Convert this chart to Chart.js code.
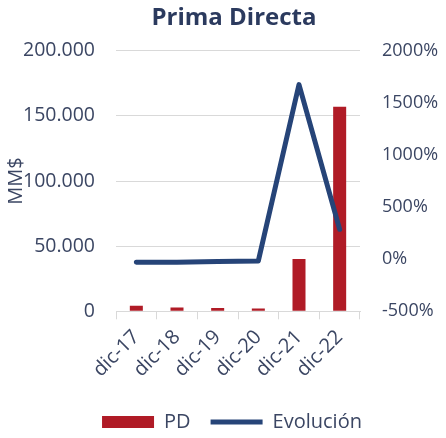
<!DOCTYPE html>
<html lang="es">
<head>
  <meta charset="UTF-8">
  <title>Prima Directa</title>
  <script src="https://cdn.jsdelivr.net/npm/chart.js"></script>
  <style>
    body {
      margin: 0;
      background: #fff;
    }
  </style>
</head>
<body>
<canvas id="primaChart" width="446" height="438"></canvas>

<script>
  // datos
  const labels = ['dic-17', 'dic-18', 'dic-19', 'dic-20', 'dic-21', 'dic-22'];
  const primaDirecta = [4200, 3000, 2500, 2200, 40200, 157000];
  const evolucion = [-30, -28, -21, -16, 1676, 287];

  const textColor = '#3b4663';
  const gridColor = '#d9d9d9';
  const fontFamily = '"Open Sans", "Noto Sans", sans-serif';

  // formato 200.000
  function formatMiles(v) {
    return v.toString().replace(/\B(?=(\d{3})+(?!\d))/g, '.');
  }

  // titulo y leyenda un poco a la derecha, como en el original
  const moverBloques = {
    id: 'moverBloques',
    afterLayout(chart) {
      if (chart.titleBlock) {
        chart.titleBlock.left += 20;
      }
      if (chart.legend) {
        chart.legend.left += 8;
        chart.legend.right += 8;
        chart.legend.top += 4;
        chart.legend.bottom += 4;
      }
    }
  };

  const ctx = document.getElementById('primaChart').getContext('2d');
  new Chart(ctx, {
    data: {
      labels: labels,
      datasets: [
        {
          type: 'line',
          label: 'Evolución',
          data: evolucion,
          yAxisID: 'y1',
          borderColor: '#264478',
          backgroundColor: '#264478',
          borderWidth: 5,
          borderCapStyle: 'round',
          borderJoinStyle: 'round',
          pointRadius: 0,
          pointStyle: 'line',
          tension: 0,
          order: 0
        },
        {
          type: 'bar',
          label: 'PD',
          data: primaDirecta,
          yAxisID: 'y',
          backgroundColor: '#b01b26',
          borderWidth: 0,
          pointStyle: 'rect',
          barPercentage: 0.4,
          categoryPercentage: 0.8,
          order: 1
        }
      ]
    },
    plugins: [moverBloques],
    options: {
      responsive: false,
      animation: false,
      devicePixelRatio: 1,
      layout: {
        padding: { left: 4, right: 2, top: 0, bottom: 0 }
      },
      plugins: {
        title: {
          display: true,
          text: 'Prima Directa',
          color: '#2b3a5e',
          font: { family: fontFamily, size: 24, weight: 'bold' },
          padding: { top: 4, bottom: 18 }
        },
        legend: {
          position: 'bottom',
          reverse: true,
          labels: {
            color: textColor,
            font: { family: fontFamily, size: 20 },
            usePointStyle: true,
            pointStyleWidth: 52,
            boxWidth: 40,
            boxHeight: 12,
            padding: 20
          }
        },
        tooltip: { enabled: false }
      },
      scales: {
        x: {
          clip: false,
          grid: {
            display: true,
            drawOnChartArea: false,
            color: gridColor,
            tickLength: 8
          },
          border: { color: gridColor },
          ticks: {
            color: textColor,
            font: { family: fontFamily, size: 20 },
            minRotation: 45,
            maxRotation: 45,
            autoSkip: false,
            padding: 6
          }
        },
        y: {
          position: 'left',
          min: 0,
          max: 200000,
          grid: { color: gridColor, drawTicks: false },
          border: { display: false },
          afterFit: function (scale) { scale.width = 112; },
          ticks: {
            stepSize: 50000,
            color: textColor,
            font: { family: fontFamily, size: 19.5 },
            padding: 21,
            callback: function (v) { return formatMiles(v); }
          },
          title: {
            display: true,
            text: 'MM$',
            color: textColor,
            font: { family: fontFamily, size: 20 },
            padding: 0
          }
        },
        y1: {
          position: 'right',
          min: -500,
          max: 2000,
          grid: { drawOnChartArea: false, drawTicks: false },
          border: { display: false },
          afterFit: function (scale) { scale.width = 84; },
          ticks: {
            stepSize: 500,
            color: textColor,
            font: { family: fontFamily, size: 18 },
            padding: 22,
            callback: function (v) { return v + '%'; }
          }
        }
      }
    }
  });
</script>
</body>
</html>
